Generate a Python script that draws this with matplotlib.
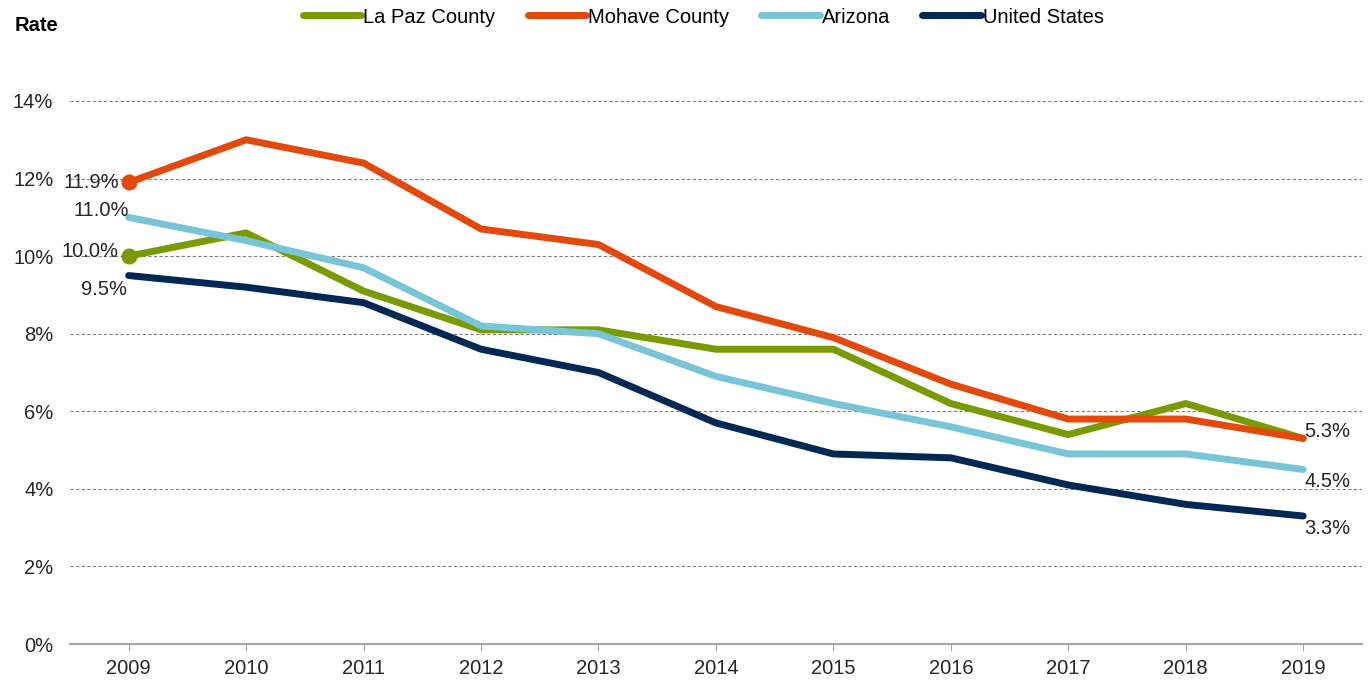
import matplotlib
matplotlib.use('Agg')
import matplotlib.pyplot as plt
import numpy as np

plt.rcParams['font.family'] = ['Liberation Sans', 'DejaVu Sans']

years = ['2009', '2010', '2011', '2012', '2013', '2014', '2015', '2016', '2017', '2018', '2019']
la_paz = [10.0, 10.6, 9.1, 8.1, 8.1, 7.6, 7.6, 6.2, 5.4, 6.2, 5.3]
mohave = [11.9, 13.0, 12.4, 10.7, 10.3, 8.7, 7.9, 6.7, 5.8, 5.8, 5.3]
arizona = [11.0, 10.4, 9.7, 8.2, 8.0, 6.9, 6.2, 5.6, 4.9, 4.9, 4.5]
us = [9.5, 9.2, 8.8, 7.6, 7.0, 5.7, 4.9, 4.8, 4.1, 3.6, 3.3]

x = np.arange(len(years))

fig = plt.figure(figsize=(13.71, 6.81), dpi=100)
ax = fig.add_axes([0.051, 0.0543, 0.9424, 0.7974])

lw = 5
ax.plot(x, la_paz, color='#7A9A01', lw=lw, label='La Paz County', solid_capstyle='round', zorder=3)
ax.plot(x, mohave, color='#E2490B', lw=lw, label='Mohave County', solid_capstyle='round', zorder=3)
ax.plot(x, arizona, color='#78C5D7', lw=lw, label='Arizona', solid_capstyle='round', zorder=3)
ax.plot(x, us, color='#002855', lw=lw, label='United States', solid_capstyle='round', zorder=3)

# dots at start of the two counties
ax.plot(x[0], la_paz[0], 'o', color='#7A9A01', ms=10.5, zorder=4)
ax.plot(x[0], mohave[0], 'o', color='#E2490B', ms=10.5, zorder=4)

fs = 14.5
tc = '#262626'
# start labels
ax.annotate(f'{mohave[0]:.1f}%', (x[0], mohave[0]), xytext=(-7, 0), textcoords='offset points',
            ha='right', va='center', fontsize=fs, color=tc)
ax.annotate(f'{arizona[0]:.1f}%', (x[0], arizona[0]), xytext=(0, 5), textcoords='offset points',
            ha='right', va='center', fontsize=fs, color=tc)
ax.annotate(f'{la_paz[0]:.1f}%', (x[0], la_paz[0]), xytext=(-7, 3), textcoords='offset points',
            ha='right', va='center', fontsize=fs, color=tc)
ax.annotate(f'{us[0]:.1f}%', (x[0], us[0]), xytext=(-1, -3), textcoords='offset points',
            ha='right', va='top', fontsize=fs, color=tc)
# end labels
ax.annotate(f'{mohave[-1]:.1f}%', (x[-1], mohave[-1]), xytext=(1, 5), textcoords='offset points',
            ha='left', va='center', fontsize=fs, color=tc)
ax.annotate(f'{arizona[-1]:.1f}%', (x[-1], arizona[-1]), xytext=(1, -2), textcoords='offset points',
            ha='left', va='top', fontsize=fs, color=tc)
ax.annotate(f'{us[-1]:.1f}%', (x[-1], us[-1]), xytext=(1, -2), textcoords='offset points',
            ha='left', va='top', fontsize=fs, color=tc)

ax.set_xlim(-0.5, len(years) - 0.5)
ax.set_ylim(0, 14)
ax.set_xticks(x)
ax.set_xticklabels(years, fontsize=fs, color=tc)
ax.set_yticks(np.arange(0, 15, 2))
ax.set_yticklabels([f'{v}%' for v in range(0, 15, 2)], fontsize=fs, color=tc)
ax.tick_params(axis='y', length=0, pad=12)
ax.tick_params(axis='x', length=5, color='#A6A6A6', pad=6)

ax.grid(axis='y', linestyle=(0, (3, 2)), color='#808080', lw=0.8)
ax.set_axisbelow(True)
for s in ['top', 'right', 'left']:
    ax.spines[s].set_visible(False)
ax.spines['bottom'].set_color('#A6A6A6')
ax.spines['bottom'].set_linewidth(1.5)
ax.spines['bottom'].set_zorder(5)

fig.text(0.011, 0.962, 'Rate', fontsize=14.5, fontweight='bold', va='center', ha='left')

fig.legend(loc='center', bbox_to_anchor=(0.513, 0.975), ncol=4, frameon=False, fontsize=fs,
           handlelength=2.9, handletextpad=0.1, columnspacing=1.6)

plt.savefig('out.png', dpi=100)
